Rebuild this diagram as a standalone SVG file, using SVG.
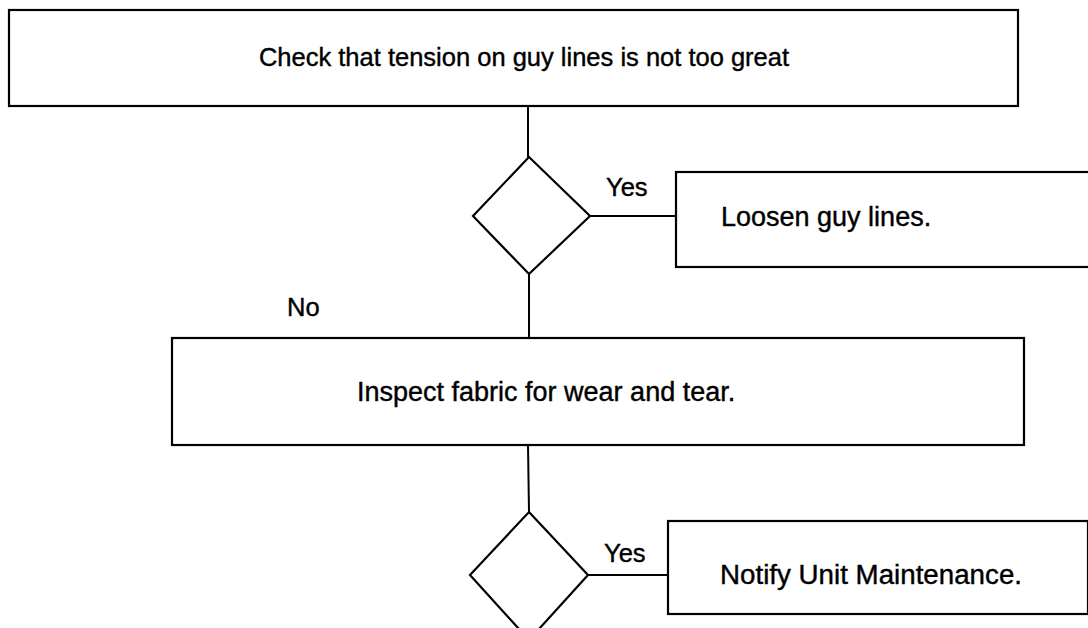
<svg xmlns="http://www.w3.org/2000/svg" width="1088" height="628" viewBox="0 0 1088 628">
<style>
.box{fill:#fff;stroke:#000;stroke-width:2.2}
.dia{fill:#fff;stroke:#000;stroke-width:2.2}
.ln{fill:none;stroke:#000;stroke-width:2}
.t{font-family:"Liberation Sans",Arial,sans-serif;font-size:25.5px;fill:#000;stroke:#000;stroke-width:0.4}
.t2{font-family:"Liberation Sans",Arial,sans-serif;font-size:27px;fill:#000;stroke:#000;stroke-width:0.4}
.lb{font-family:"Liberation Sans",Arial,sans-serif;font-size:25.5px;fill:#000;stroke:#000;stroke-width:0.4}
</style>
<rect width="1088" height="628" fill="#fff"/>
<g id="connectors">
<line class="ln" x1="528" y1="106" x2="528" y2="157"/>
<line class="ln" x1="590" y1="216" x2="676" y2="216"/>
<line class="ln" x1="529" y1="274" x2="529" y2="338"/>
<line class="ln" x1="528" y1="445" x2="529" y2="512"/>
<line class="ln" x1="588" y1="575" x2="668" y2="575"/>
<text class="lb" x="606" y="196">Yes</text>
<text class="lb" x="287" y="316">No</text>
<text class="lb" x="604" y="562">Yes</text>
</g>
<g id="n1"><rect class="box" x="9" y="10" width="1009" height="96"/>
<text class="t" x="524" y="66" text-anchor="middle">Check that tension on guy lines is not too great</text></g>
<g id="d1"><polygon class="dia" points="529,157 590,216 529,274 473,216"/></g>
<g id="n2"><rect class="box" x="676" y="172" width="420" height="95"/>
<text class="t2" x="721" y="226">Loosen guy lines.</text></g>
<g id="n3"><rect class="box" x="172" y="338" width="852" height="107"/>
<text class="t2" x="357" y="401">Inspect fabric for wear and tear.</text></g>
<g id="d2"><polygon class="dia" points="529,512 588,575 529,640 470,575"/></g>
<g id="n4"><rect class="box" x="668" y="521" width="420" height="93"/>
<text class="t2" x="720" y="584" textLength="302" lengthAdjust="spacingAndGlyphs">Notify Unit Maintenance.</text></g>
</svg>
